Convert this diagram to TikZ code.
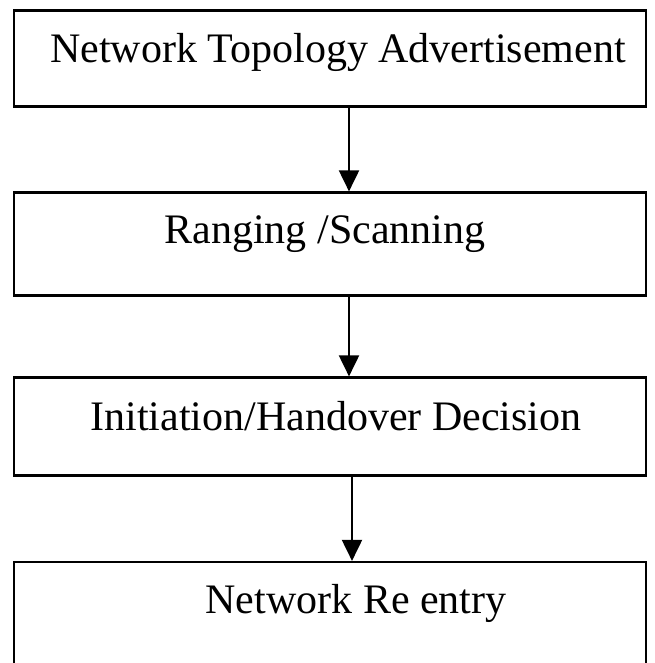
\documentclass[tikz,border=0pt]{standalone}
\usepackage{fontspec}
\setmainfont{Liberation Serif}
\usetikzlibrary{arrows.meta}
\begin{document}
\begin{tikzpicture}[x=1pt,y=-1pt,
  stage/.style={draw=black,line width=2.2pt,rectangle,inner sep=0pt},
  label/.style={font=\fontsize{42}{50}\selectfont,anchor=base,inner sep=0pt},
  flow/.style={line width=2pt,-{Triangle[length=21pt,width=20pt]}}]
\useasboundingbox (0,0) rectangle (654,663);
\clip (0,0) rectangle (654,663);
\fill[white] (0,0) rectangle (654,663);
% stage boxes
\node[stage,minimum width=632pt,minimum height=96pt] (b1) at (330,58.5) {};
\node[stage,minimum width=632pt,minimum height=103pt] (b2) at (330,244) {};
\node[stage,minimum width=632pt,minimum height=98pt] (b3) at (330,426.5) {};
\node[stage,minimum width=632pt,minimum height=200pt] (b4) at (330,662) {};
% stage titles
\node[label] (t1) at (338,63) {Network Topology Advertisement};
\node[label] (t2) at (325,243) {Ranging /Scanning};
\node[label] (t3) at (336,430) {Initiation/Handover Decision};
\node[label] (t4) at (356,613) {Network Re entry};
% connectors
\draw[flow] (b1.south -| 349,0) -- (b2.north -| 349,0);
\draw[flow] (b2.south -| 349,0) -- (b3.north -| 349,0);
\draw[flow] (b3.south -| 352,0) -- (b4.north -| 352,0);
\end{tikzpicture}
\end{document}
